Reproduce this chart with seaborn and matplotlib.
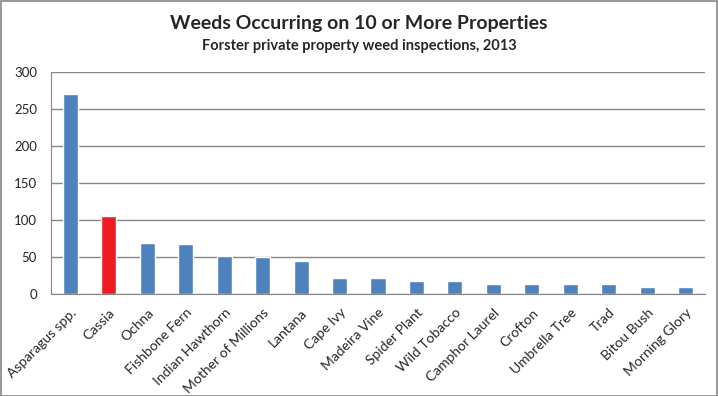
import pandas as pd
import seaborn as sns
import matplotlib.pyplot as plt

weeds = ['Asparagus spp.', 'Cassia', 'Ochna', 'Fishbone Fern', 'Indian Hawthorn',
         'Mother of Millions', 'Lantana', 'Cape Ivy', 'Madeira Vine', 'Spider Plant',
         'Wild Tobacco', 'Camphor Laurel', 'Crofton', 'Umbrella Tree', 'Trad',
         'Bitou Bush', 'Morning Glory']
properties = [270, 105, 69, 68, 52, 50, 44, 22, 21, 18, 17, 14, 14, 14, 13, 10, 10]
highlight = 'Cassia'

data = pd.DataFrame({'weed': weeds, 'count': properties})
colors = ['#ED1C24' if w == highlight else '#4F81BD' for w in weeds]

sns.set_style('white')
plt.rcParams['font.family'] = ['Lato', 'DejaVu Sans']

fig = plt.figure(figsize=(7.18, 3.96), dpi=100)
ax = fig.add_axes([51 / 718, 1 - 294 / 396, 654 / 718, 222 / 396])

sns.barplot(x='weed', y='count', data=data, hue='weed', palette=colors,
            legend=False, width=0.39, ax=ax, saturation=1)

ax.set_ylim(0, 300)
ax.set_xlim(-0.5, len(weeds) - 0.5)
ax.set_yticks(range(0, 301, 50))
ax.yaxis.grid(True, color='#868686', linewidth=1)
ax.set_axisbelow(True)
ax.set_xlabel('')
ax.set_ylabel('')

for side in ['top', 'right']:
    ax.spines[side].set_visible(False)
for side in ['left', 'bottom']:
    ax.spines[side].set_color('#868686')

ax.set_xticks(range(len(weeds)))
ax.set_xticklabels(weeds, rotation=45, ha='right', rotation_mode='anchor', fontsize=10)
ax.set_xticks([i - 0.5 for i in range(len(weeds) + 1)], minor=True)
ax.tick_params(axis='x', which='major', length=0, pad=9)
ax.tick_params(axis='x', which='minor', length=5, color='#868686', direction='out')
ax.tick_params(axis='y', length=5, color='#868686', direction='out', labelsize=9.5, pad=5)

fig.text(0.5, 1 - 23 / 396, 'Weeds Occurring on 10 or More Properties',
         ha='center', va='center', fontsize=14, fontweight='bold')
fig.text(0.5, 1 - 46 / 396, 'Forster private property weed inspections, 2013',
         ha='center', va='center', fontsize=10.5, fontweight='bold')

border = plt.Rectangle((0.5 / 718, 0.5 / 396), 716.5 / 718, 394.5 / 396,
                       transform=fig.transFigure, fill=False,
                       edgecolor='#868686', linewidth=1.2)
fig.patches.append(border)

fig.savefig('out.png', dpi=100)
